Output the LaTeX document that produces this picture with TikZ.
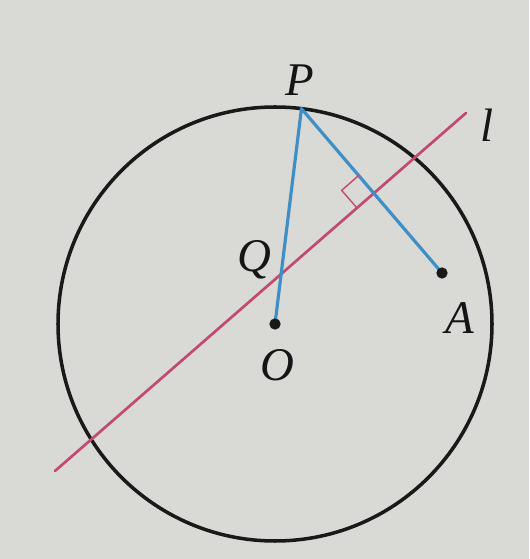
\documentclass[tikz,border=0pt]{standalone}
\usepackage{fontspec}
\setmainfont{Liberation Serif}
\usepackage{xcolor}
\usetikzlibrary{calc}
\definecolor{paperfill}{HTML}{D9D9D6}
\definecolor{segcolor}{HTML}{3D8FC6}
\definecolor{linecolor}{HTML}{C24A72}
\definecolor{textcolor}{HTML}{151515}
\tikzset{
  circle line/.style={
    draw=black!90,
    line width=3pt
  },
  segment/.style={
    draw=segcolor,
    line width=2.7pt,
    line cap=round,
    line join=round
  },
  given line/.style={
    draw=linecolor,
    line width=2.3pt,
    line cap=round
  },
  right mark/.style={
    draw=linecolor,
    line width=1.2pt
  },
  point dot/.style={
    circle,
    fill=black!90,
    minimum size=0.34cm,
    inner sep=0pt
  },
  point label/.style={
    font=\fontsize{40}{40}\selectfont\itshape,
    text=textcolor,
    inner sep=0pt
  }
}

\begin{document}
\begin{tikzpicture}[x=0.03cm,y=0.03cm]
  \fill[paperfill] (0,0) rectangle (529,559);
  \useasboundingbox (0,0) rectangle (529,559);

  \coordinate (O) at (275,235);
  \coordinate (P) at ($(O)+(83:217)$);
  \coordinate (A) at (442,286);
  \coordinate (L-1) at (55,88);
  \coordinate (L-2) at (466,446);
  \coordinate (Q) at (intersection of O--P and L-1--L-2);
  \coordinate (H) at ($(L-1)!(P)!(L-2)$);

  \draw[circle line] (O) circle (217);
  \draw[given line] (L-1) -- (L-2);
  \draw[segment] (O) -- (P) -- (A);

  % right angle at the foot
  \draw[right mark] ($(H)!0.7cm!(P)$)
    -- ($($(H)!0.7cm!(P)$)+($(H)!0.7cm!(L-1)$)-(H)$)
    -- ($(H)!0.7cm!(L-1)$);

  \node[point dot] (O-dot) at (O) {};
  \node[point dot] (A-dot) at (A) {};

  \node[point label] at (300,479) {P};
  \node[point label] at (487,434) {l};
  \node[point label] at (254,299) {Q};
  \node[point label] at (277,194) {O};
  \node[point label] at (460,241) {A};
\end{tikzpicture}
\end{document}
